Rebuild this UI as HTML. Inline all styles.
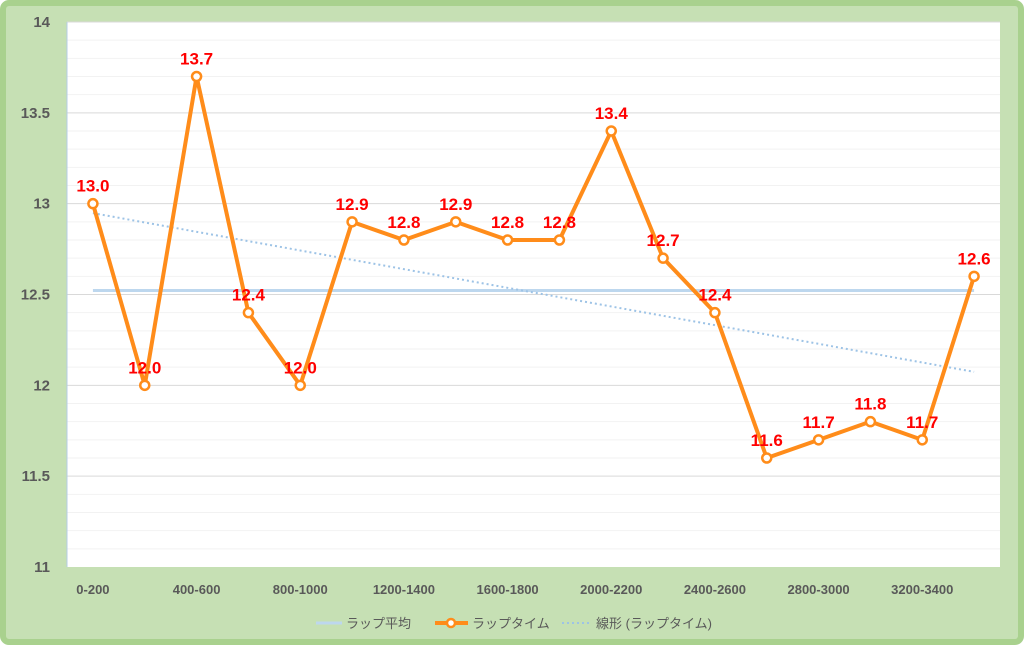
<!DOCTYPE html>
<html><head><meta charset="utf-8"><style>
body{margin:0;width:1024px;height:645px;overflow:hidden;background:#fff}
svg{display:block;font-family:"Liberation Sans","Noto Sans CJK JP",sans-serif}
</style></head><body>
<svg id="c" width="1024" height="645">
<rect x="3" y="3" width="1018" height="639" rx="6" fill="#c6e0b4" stroke="#a9d18e" stroke-width="6"/>
<rect x="67" y="22" width="933" height="545" fill="#ffffff"/>
<g id="grid"></g><g id="yt"></g><g id="xt"></g><g id="series"></g>
<g font-size="13" fill="#595959">
<line x1="316" y1="623" x2="342" y2="623" stroke="#bdd7ee" stroke-width="3"/>
<text x="346" y="628">ラップ平均</text>
<line x1="435" y1="623" x2="468" y2="623" stroke="#ff8c1a" stroke-width="4"/>
<circle cx="451" cy="623" r="4" fill="#fff" stroke="#ff8c1a" stroke-width="2.5"/>
<text x="472" y="628">ラップタイム</text>
<line x1="562" y1="623" x2="592" y2="623" stroke="#9dc3e6" stroke-width="2" stroke-dasharray="2,3"/>
<text x="596" y="628">線形 (ラップタイム)</text>
</g>
</svg>
<script>
const categories=["0-200","200-400","400-600","600-800","800-1000","1000-1200","1200-1400","1400-1600","1600-1800","1800-2000","2000-2200","2200-2400","2400-2600","2600-2800","2800-3000","3000-3200","3200-3400","3400-3600"];
const lapTimes=[13.0,12.0,13.7,12.4,12.0,12.9,12.8,12.9,12.8,12.8,13.4,12.7,12.4,11.6,11.7,11.8,11.7,12.6];
const yTicks=[11,11.5,12,12.5,13,13.5,14];
const NS="http://www.w3.org/2000/svg";
const L=67,R=1000,T=22,B=567,yMin=11,yMax=14;
const bw=(R-L)/categories.length;
const xs=i=>L+bw*(i+0.5);
const ys=v=>B-(v-yMin)/(yMax-yMin)*(B-T);
function mk(tag,attrs,parent){const e=document.createElementNS(NS,tag);for(const k in attrs)e.setAttribute(k,attrs[k]);parent.appendChild(e);return e;}
const grid=document.getElementById('grid');
for(let v=11.1;v<14.001;v+=0.1){const major=Math.abs(v*2-Math.round(v*2))<1e-6;
const l=mk('line',{x1:L,x2:R,y1:ys(v),y2:ys(v),stroke:major?'#d9d9d9':'#f2f2f2','stroke-width':1},grid);

}
const ax=mk('line',{x1:L,x2:L,y1:T,y2:B,stroke:'#b4cde6','stroke-width':1},grid);


const yt=document.getElementById('yt');
yTicks.forEach(v=>{const t=mk('text',{x:50,y:ys(v)+5,'text-anchor':'end','font-size':15,'font-weight':'bold',fill:'#595959'},yt);t.textContent=String(v);

});
const xt=document.getElementById('xt');
categories.forEach((c,i)=>{if(i%2)return;const t=mk('text',{x:xs(i),y:594,'text-anchor':'middle','font-size':13,'font-weight':'bold',fill:'#595959'},xt);t.textContent=c;

});
const g=document.getElementById('series');
const n=lapTimes.length;const mean=lapTimes.reduce((a,b)=>a+b,0)/n;
const avg=mk('line',{x1:xs(0),x2:xs(n-1),y1:ys(mean)-2,y2:ys(mean)-2,stroke:'#bdd7ee','stroke-width':3},g);


let sx=0,sy=0,sxx=0,sxy=0;lapTimes.forEach((v,i)=>{sx+=i;sy+=v;sxx+=i*i;sxy+=i*v;});
const slope=(n*sxy-sx*sy)/(n*sxx-sx*sx),icpt=(sy-slope*sx)/n;
const tr=mk('line',{x1:xs(0),x2:xs(n-1),y1:ys(icpt),y2:ys(icpt+slope*(n-1)),stroke:'#9dc3e6','stroke-width':2,'stroke-dasharray':'2,3'},g);


const pl=mk('polyline',{points:lapTimes.map((v,i)=>xs(i)+','+ys(v)).join(' '),fill:'none',stroke:'#ff8c1a','stroke-width':4,'stroke-linejoin':'round'},g);


lapTimes.forEach((v,i)=>{const c=mk('circle',{cx:xs(i),cy:ys(v),r:4.5,fill:'#fff',stroke:'#ff8c1a','stroke-width':2.5},g);


const t=mk('text',{x:xs(i),y:ys(v)-12,'text-anchor':'middle','font-size':17,'font-weight':'bold',fill:'#ff0000'},g);t.textContent=v.toFixed(1);

});
</script>
</body></html>
